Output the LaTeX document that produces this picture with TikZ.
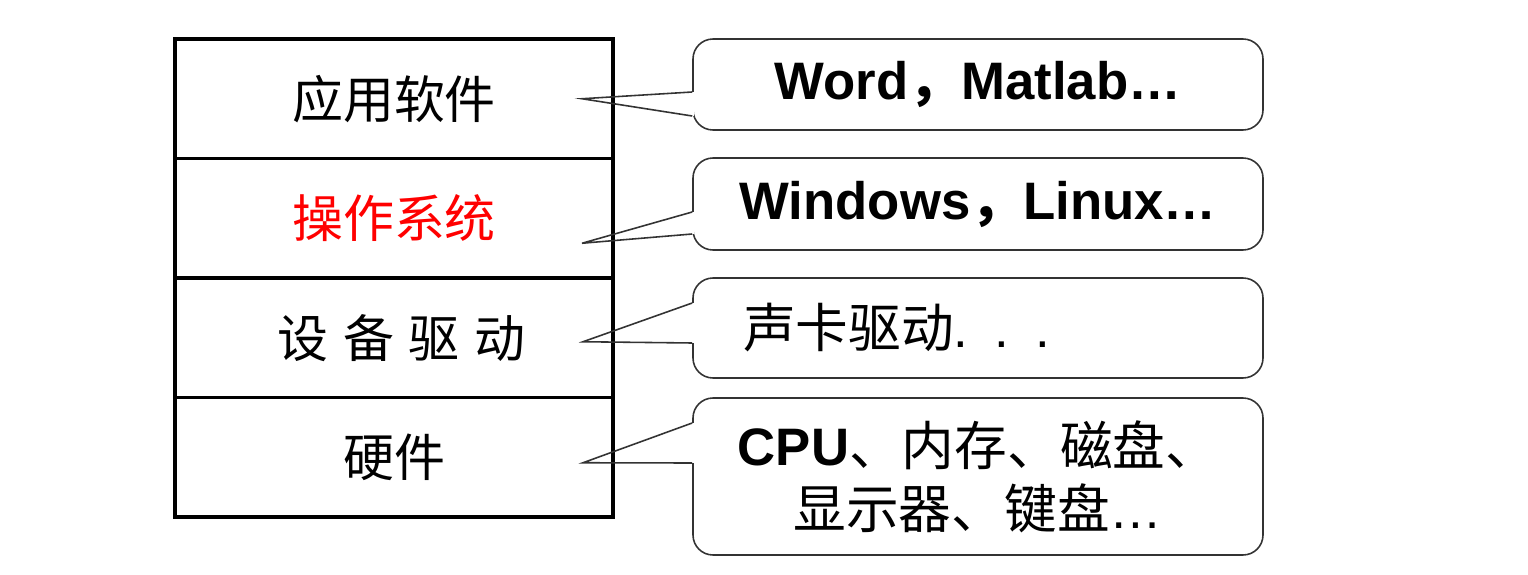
\documentclass[tikz,border=0pt]{standalone}
\usepackage{fontspec}
\setmainfont{Liberation Sans}
\newfontfamily\cjk{Noto Sans CJK SC}
\usetikzlibrary{positioning}

\begin{document}
\begin{tikzpicture}[
        layer/.style={draw,line width=2pt,outer sep=0pt,inner sep=0pt,
            minimum width=8.76cm,minimum height=2.39cm,font=\cjk\fontsize{29}{35}\selectfont},
        bubble/.style={draw=black!80,line width=0.9pt,rounded corners=0.4cm,
            minimum width=11.4cm,inner sep=0pt,align=center,
            font=\fontsize{30}{36}\selectfont\bfseries},
        wedge/.style={draw=black!80,line width=0.9pt,line join=miter}]
    \useasboundingbox (0,0) rectangle (30.56,11.48);

    % the four layers
    \node[layer] (app) at (7.88,9.505) {应用软件};
    \node[layer,below=0pt of app,text=red] (os) {操作系统};
    \node[layer,below=0pt of os] (drv) {\hspace{0.3cm}设\hspace{0.3cm}备\hspace{0.3cm}驱\hspace{0.3cm}动};
    \node[layer,below=0pt of drv] (hw) {硬件};

    % examples
    \node[bubble,minimum height=1.82cm] (word) at (19.56,9.79) {Word{\cjk ，}Matlab…};
    \node[bubble,minimum height=1.84cm] (win) at (19.56,7.40) {Windows{\cjk ，}Linux…};
    \node[bubble,minimum height=2.0cm,font=\fontsize{30}{36}\selectfont,
        text width=9.4cm,align=left] (snd) at (19.56,4.92) {{\cjk 声卡驱动}. . .};
    \node[bubble,minimum height=3.14cm] (cpu) at (19.56,1.95)
        {CPU{\cjk\mdseries 、内存、磁盘、}\\{\cjk\mdseries 显示器、键盘}\mdseries…};

    \foreach \b/\l/\dx/\dy/\ua/\ub in {word/app/-0.62/0/-0.15/-0.63,
            win/os/-0.62/-0.5/-0.16/-0.60,
            snd/drv/-0.60/-0.08/0.5/-0.3,
            cpu/hw/-0.60/-0.11/1.07/0.27} {
        \coordinate (tip\b) at ([xshift=\dx cm,yshift=\dy cm]\l.east);
        \fill[white] ([xshift=-0.04cm,yshift=\ua cm]\b.west) rectangle ([xshift=0.04cm,yshift=\ub cm]\b.west);
        \draw[wedge] ([yshift=\ua cm]\b.west) -- (tip\b) -- ([yshift=\ub cm]\b.west);
    }
\end{tikzpicture}
\end{document}
